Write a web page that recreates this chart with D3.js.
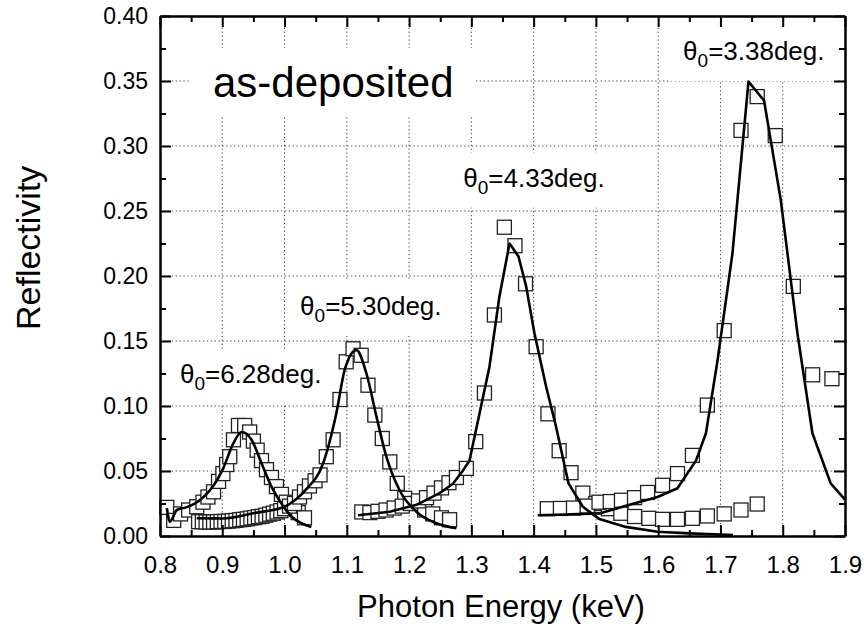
<!DOCTYPE html>
<html>
<head>
<meta charset="utf-8">
<script src="https://cdn.jsdelivr.net/npm/d3@7"></script>
<style>
  html, body { margin: 0; padding: 0; background: #fff; }
  svg { display: block; }
  text { font-family: "Liberation Sans", Arial, sans-serif; fill: #000; }
</style>
</head>
<body>
<svg id="chart" width="864" height="632"></svg>
<script>
// ---------------- data ----------------
const xTicks = [0.8, 0.9, 1.0, 1.1, 1.2, 1.3, 1.4, 1.5, 1.6, 1.7, 1.8, 1.9];
const yTicks = [0.00, 0.05, 0.10, 0.15, 0.20, 0.25, 0.30, 0.35, 0.40];

// measured reflectivity (open squares)
const meas628E = [0.811,0.822,0.833,0.846,0.859,0.869,0.877,0.886,0.894,0.901,0.907,0.912,0.918,0.926,0.936,0.944,0.950,0.956,0.963,0.971,0.979,0.987,0.995,1.003,1.012,1.022,1.032];
const meas628R = [0.022,0.012,0.017,0.020,0.0225,0.026,0.030,0.034,0.042,0.048,0.055,0.061,0.074,0.085,0.085,0.080,0.073,0.066,0.058,0.051,0.045,0.038,0.032,0.026,0.021,0.018,0.014];

const meas530E = [0.862,0.868,0.874,0.880,0.886,0.892,0.898,0.904,0.910,0.916,0.922,0.928,0.934,0.940,0.946,0.952,0.958,0.964,0.970,0.976,0.982,0.988,0.994,1.000,1.008,1.016,1.024,1.032,1.040,1.049,1.057,1.067,1.078,1.089,1.099,1.110,1.123,1.134,1.145,1.157,1.169,1.181,1.193,1.210,1.225,1.238,1.252,1.265];
const meas530R = [0.0110,0.0110,0.0108,0.0108,0.0108,0.0110,0.0112,0.0112,0.0115,0.0118,0.0120,0.0125,0.0128,0.0132,0.0138,0.0142,0.0148,0.0152,0.0160,0.0168,0.0175,0.0185,0.0195,0.0210,0.0230,0.0250,0.0300,0.0340,0.0385,0.0425,0.0470,0.0610,0.0740,0.1050,0.1340,0.1440,0.1390,0.1160,0.0930,0.0750,0.0570,0.0405,0.0290,0.0250,0.0200,0.0170,0.0140,0.0125];

const meas433E = [1.124,1.137,1.150,1.163,1.176,1.189,1.202,1.215,1.228,1.240,1.252,1.264,1.276,1.292,1.307,1.321,1.337,1.353,1.370,1.387,1.404,1.423,1.441,1.460,1.479,1.500,1.520,1.540,1.562,1.585,1.607,1.631,1.655,1.679,1.706,1.733,1.759];
const meas433R = [0.0185,0.0180,0.0190,0.0200,0.0215,0.0230,0.0250,0.0270,0.0295,0.0330,0.0370,0.0410,0.0450,0.0520,0.0726,0.1100,0.1700,0.2375,0.2233,0.1940,0.1456,0.0940,0.0656,0.0487,0.0330,0.0250,0.0210,0.0175,0.0150,0.0136,0.0128,0.0128,0.0136,0.0154,0.0170,0.0200,0.0246];

const meas338E = [1.422,1.443,1.464,1.486,1.505,1.523,1.541,1.562,1.583,1.607,1.631,1.655,1.679,1.706,1.733,1.759,1.788,1.817,1.848,1.879];
const meas338R = [0.0210,0.0212,0.0215,0.0230,0.0260,0.0265,0.0275,0.0295,0.0335,0.0390,0.0480,0.0620,0.1007,0.1580,0.3120,0.3380,0.3080,0.1920,0.1240,0.1210];

// fitted curves (solid lines)
const fit628E = [0.811,0.816,0.827,0.842,0.856,0.870,0.885,0.9015,0.9175,0.931,0.947,0.963,0.979,0.995,1.011,1.027,1.043];
const fit628R = [0.0215,0.011,0.020,0.022,0.025,0.030,0.038,0.052,0.071,0.080,0.074,0.056,0.038,0.025,0.015,0.0098,0.007];

const fit530E = [0.859,0.900,0.952,1.000,1.018,1.035,1.062,1.083,1.0967,1.1154,1.1315,1.1475,1.1635,1.1849,1.2117,1.2437,1.276];
const fit530R = [0.0136,0.0135,0.0177,0.0225,0.028,0.036,0.056,0.094,0.128,0.143,0.125,0.092,0.061,0.035,0.0187,0.0098,0.006];

const fit433E = [1.118,1.169,1.212,1.249,1.270,1.286,1.297,1.313,1.329,1.345,1.3613,1.3757,1.388,1.4013,1.420,1.436,1.4560,1.479,1.5056,1.548,1.599,1.650,1.720];
const fit433R = [0.016,0.0187,0.024,0.033,0.040,0.050,0.058,0.094,0.130,0.184,0.225,0.215,0.192,0.156,0.115,0.084,0.0405,0.0225,0.013,0.007,0.0033,0.002,0.0008];

const fit338E = [1.4066,1.450,1.5056,1.554,1.599,1.631,1.6607,1.6767,1.6953,1.7193,1.745,1.770,1.797,1.8236,1.8477,1.877,1.900];
const fit338R = [0.016,0.0165,0.0174,0.024,0.030,0.0367,0.058,0.079,0.135,0.2175,0.3495,0.335,0.258,0.156,0.079,0.0405,0.028];

const labelTheta = ["6.28", "5.30", "4.33", "3.38"];
const labelEnergy = [0.832, 1.025, 1.287, 1.640];   // left edge of label (keV)
const labelRefl  = [0.1177, 0.1700, 0.2687, 0.3662]; // baseline (reflectivity)

// ---------------- chart ----------------
const svg = d3.select("#chart");
const x = d3.scaleLinear().domain([0.8, 1.9]).range([160, 845]);
const y = d3.scaleLinear().domain([0, 0.40]).range([536, 16]);

// gridlines
const grid = svg.append("g").attr("stroke", "#444").attr("stroke-width", 1).attr("stroke-dasharray", "1.3,2.6");
grid.selectAll("line.v").data(xTicks.slice(1, -1)).join("line")
  .attr("x1", d => x(d)).attr("x2", d => x(d)).attr("y1", y(0.40)).attr("y2", y(0));
grid.selectAll("line.h").data(yTicks.slice(1, -1)).join("line")
  .attr("y1", d => y(d)).attr("y2", d => y(d)).attr("x1", x(0.8)).attr("x2", x(1.9));

// label layer (white boxes hide gridlines)
const labelLayer = svg.append("g");
function addBoxedText(buildFn, padX, padY) {
  const g = labelLayer.append("g");
  const rect = g.append("rect").attr("fill", "#fff");
  const t = buildFn(g);
  const bb = t.node().getBBox();
  rect.attr("x", bb.x - padX).attr("y", bb.y - padY)
      .attr("width", bb.width + 2 * padX).attr("height", bb.height + 2 * padY);
  return g;
}

addBoxedText(g => g.append("text").attr("x", 213).attr("y", 97)
  .attr("font-size", 42).text("as-deposited"), 22, 11);

labelTheta.forEach((th, i) => {
  addBoxedText(g => {
    const t = g.append("text").attr("x", x(labelEnergy[i])).attr("y", y(labelRefl[i])).attr("font-size", 26);
    t.append("tspan").text("θ");
    t.append("tspan").attr("font-size", 19).attr("dy", 7).text("0");
    t.append("tspan").attr("dy", -7).text("=" + th + "deg.");
    return t;
  }, 12, 10);
});

// measured squares
const series = [
  [meas628E, meas628R], [meas530E, meas530R], [meas433E, meas433R], [meas338E, meas338R]
];
const sq = 14;
const marks = svg.append("g");
series.forEach(([E, R]) => {
  marks.append("g").selectAll("rect").data(d3.zip(E, R)).join("rect")
    .attr("x", d => x(d[0]) - sq / 2).attr("y", d => y(d[1]) - sq / 2)
    .attr("width", sq).attr("height", sq)
    .attr("fill", "#fff").attr("stroke", "#222").attr("stroke-width", 1.3);
});

// fitted curves
const fits = [
  [fit628E, fit628R, d3.curveMonotoneX], [fit530E, fit530R, d3.curveMonotoneX],
  [fit433E, fit433R, d3.curveLinear], [fit338E, fit338R, d3.curveLinear]
];
fits.forEach(([E, R, c]) => {
  const line = d3.line().x(d => x(d[0])).y(d => y(d[1])).curve(c);
  svg.append("path").datum(d3.zip(E, R)).attr("d", line)
    .attr("fill", "none").attr("stroke", "#000").attr("stroke-width", 2.6)
    .attr("stroke-linejoin", "round");
});

// axes
const xMinor = d3.range(0, 11).map(i => 0.85 + i * 0.1);
const yMinor = d3.range(0, 8).map(i => 0.025 + i * 0.05);
function styleAxis(g) {
  g.selectAll(".domain").attr("stroke", "#000").attr("stroke-width", 2.5);
  g.selectAll(".tick line").attr("stroke", "#000").attr("stroke-width", 2);
  g.selectAll("text").attr("font-family", "Liberation Sans, Arial, sans-serif").attr("fill", "#000");
}
svg.append("g").attr("transform", `translate(0,${y(0)})`)
  .call(d3.axisBottom(x).tickValues(xTicks).tickFormat(d3.format(".1f")).tickSize(-11).tickSizeOuter(0).tickPadding(20))
  .call(g => g.selectAll("text").attr("font-size", 24))
  .call(styleAxis);
svg.append("g").attr("transform", `translate(0,${y(0)})`)
  .call(d3.axisBottom(x).tickValues(xMinor).tickFormat("").tickSize(-6).tickSizeOuter(0))
  .call(styleAxis).call(g => g.select(".domain").remove());
svg.append("g").attr("transform", `translate(0,${y(0.40)})`)
  .call(d3.axisTop(x).tickValues(xTicks).tickFormat("").tickSize(-11).tickSizeOuter(0))
  .call(styleAxis);
svg.append("g").attr("transform", `translate(0,${y(0.40)})`)
  .call(d3.axisTop(x).tickValues(xMinor).tickFormat("").tickSize(-6).tickSizeOuter(0))
  .call(styleAxis).call(g => g.select(".domain").remove());
svg.append("g").attr("transform", `translate(${x(0.8)},0)`)
  .call(d3.axisLeft(y).tickValues(yTicks).tickFormat(d3.format(".2f")).tickSize(-11).tickSizeOuter(0).tickPadding(12))
  .call(g => g.selectAll("text").attr("font-size", 23))
  .call(styleAxis);
svg.append("g").attr("transform", `translate(${x(0.8)},0)`)
  .call(d3.axisLeft(y).tickValues(yMinor).tickFormat("").tickSize(-6).tickSizeOuter(0))
  .call(styleAxis).call(g => g.select(".domain").remove());
svg.append("g").attr("transform", `translate(${x(1.9)},0)`)
  .call(d3.axisRight(y).tickValues(yTicks).tickFormat("").tickSize(-11).tickSizeOuter(0))
  .call(styleAxis);
svg.append("g").attr("transform", `translate(${x(1.9)},0)`)
  .call(d3.axisRight(y).tickValues(yMinor).tickFormat("").tickSize(-6).tickSizeOuter(0))
  .call(styleAxis).call(g => g.select(".domain").remove());

// axis titles
svg.append("text").attr("x", 501).attr("y", 617).attr("text-anchor", "middle")
  .attr("font-size", 31).text("Photon Energy (keV)");
svg.append("text").attr("transform", "translate(40,330) rotate(-90)")
  .attr("font-size", 34).text("Reflectivity");
</script>
</body>
</html>
